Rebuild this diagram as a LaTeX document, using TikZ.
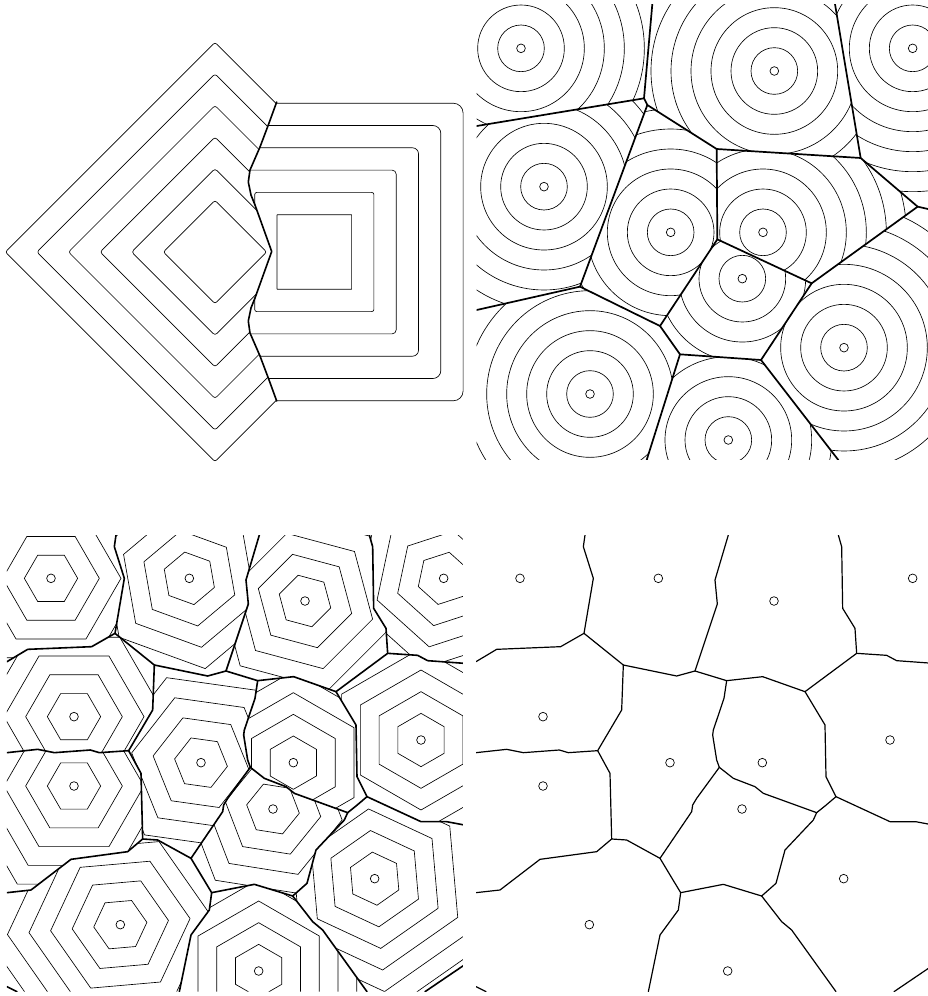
\documentclass[tikz,border=0pt]{standalone}
\newcommand\myrings[2]{\draw[sitec] (#1,#2) circle[radius=13];%
  \foreach \k in {0,...,12}{\draw[thinl] (#1,#2) circle[radius={70+60*\k}];}}
\newcommand\myhex[3]{\draw[sitec] (#1,#2) circle[radius=13];%
  \begin{scope}[shift={(#1,#2)}]%
  \foreach \k in {0,...,11}{\pgfmathsetmacro\hr{80+65*\k}%
    \draw[thinl,line join=miter] (#3:\hr) -- ({#3+60}:\hr) -- ({#3+120}:\hr) -- ({#3+180}:\hr) -- ({#3+240}:\hr) -- ({#3+300}:\hr) -- cycle;}%
  \end{scope}}
\newcommand\bottomedges{%
  \draw[bnd] (345,15) -- (340,50) -- (370,145) -- (342,310) -- (272,350) -- (80,358) -- (18,395);
  \draw[bnd] (342,310) -- (460,405) -- (620,438) -- (675,423) -- (770,452) -- (878,440) -- (1005,485) -- (1160,370) -- (1250,376) -- (1280,392) -- (1390,400);
  \draw[bnd] (675,423) -- (742,222) -- (735,150) -- (775,15);
  \draw[bnd] (1160,370) -- (1155,295) -- (1118,235) -- (1115,50) -- (1105,15);
  \draw[bnd] (1005,485) -- (1065,585) -- (1068,740) -- (1098,800) -- (1260,875) -- (1337,875) -- (1390,885);
  \draw[bnd] (1098,800) -- (1065,828) -- (1040,848) -- (880,790) -- (855,770) -- (790,745) -- (748,712) -- (740,690) -- (728,615) -- (730,600) -- (762,505) -- (770,452);
  \draw[bnd] (748,712) -- (680,805) -- (668,825) -- (665,845) -- (570,985) -- (470,930) -- (425,927) -- (420,730) -- (383,662) -- (455,540) -- (460,405);
  \draw[bnd] (383,662) -- (295,668) -- (268,660) -- (160,668) -- (110,658) -- (18,668);
  \draw[bnd] (425,927) -- (380,965) -- (210,988) -- (90,1080) -- (18,1088);
  \draw[bnd] (1040,848) -- (1030,870) -- (945,960) -- (918,1060) -- (875,1098) -- (760,1063) -- (632,1088) -- (570,985);
  \draw[bnd] (632,1088) -- (625,1140) -- (570,1215) -- (535,1385);
  \draw[bnd] (875,1098) -- (935,1175) -- (965,1200) -- (1098,1385);
  \draw[bnd] (18,1370) -- (48,1385);
  \draw[bnd] (1272,1385) -- (1390,1305);}
\begin{document}
\begin{tikzpicture}[x=1pt,y=-1pt,
  thinl/.style={line width=0.65pt},
  bnd/.style={line width=1.6pt,line join=round,line cap=round},
  sitec/.style={line width=0.7pt}]
\useasboundingbox (0,0) rectangle (928,996);

%%%%%%%% top-left: L1 and Linf contours
\begin{scope}
\clip (-10,-10) -- (276.7,-10) -- (276.7,102) -- (268.3,125) -- (260,147) -- (250,170) -- (248.3,182) -- (251,195) -- (255,205) -- (271.7,251.5) -- (255,298) -- (251,308) -- (248.3,321) -- (250,333) -- (260,356) -- (268.3,378) -- (276.7,401) -- (276.7,510) -- (-10,510) -- cycle;
\foreach \k in {1,...,6}{%
  \pgfmathsetmacro\dr{20.1+31.6*\k}%
  \draw[thinl,rounded corners=2.5pt] ({215-\dr},252) -- (215,{252-\dr}) -- ({215+\dr},252) -- (215,{252+\dr}) -- cycle;}
\end{scope}
\begin{scope}
\clip (600,-10) -- (276.7,-10) -- (276.7,102) -- (268.3,125) -- (260,147) -- (250,170) -- (248.3,182) -- (251,195) -- (255,205) -- (271.7,251.5) -- (255,298) -- (251,308) -- (248.3,321) -- (250,333) -- (260,356) -- (268.3,378) -- (276.7,401) -- (276.7,510) -- (600,510) -- cycle;
\foreach \k in {1,...,6}{%
  \pgfmathsetmacro\sq{15+22.3*\k}%
  \pgfmathsetmacro\rc{0.3+1.9*(\k-1)}%
  \draw[thinl,rounded corners=\rc pt] ({314.3-\sq},{252-\sq}) rectangle ({314.3+\sq},{252+\sq});}
\end{scope}
\draw[bnd] (276.7,102) -- (268.3,125) -- (260,147) -- (250,170) -- (248.3,182) -- (251,195) -- (255,205) -- (271.7,251.5) -- (255,298) -- (251,308) -- (248.3,321) -- (250,333) -- (260,356) -- (268.3,378) -- (276.7,401);

%%%%%%%% top-right: Euclidean Voronoi with circles
\begin{scope}[shift={(470,0)},x=0.333333pt,y=-0.333333pt]
\coordinate (V1) at (522,295); \coordinate (V2) at (532,315);
\coordinate (V3) at (330,860); \coordinate (V4) at (740,447);
\coordinate (V5) at (1172,474); \coordinate (V6) at (742,718);
\coordinate (V7) at (570,978); \coordinate (V8) at (1343,620);
\coordinate (V9) at (1025,850); \coordinate (V10) at (630,1063);
\coordinate (V11) at (873,1080);
\coordinate (Pa) at (547,12); \coordinate (Pb) at (1095,12);
\coordinate (Pc) at (20,378); \coordinate (Pd) at (20,930);
\coordinate (Pe) at (1374,627); \coordinate (Pf) at (530,1380);
\coordinate (Pg) at (1105,1380);
\clip (20,12) rectangle (1374,1380);
\begin{scope}\clip (20,12) -- (Pa) -- (V1) -- (Pc) -- cycle; \myrings{153}{145}\end{scope}
\begin{scope}\clip (Pa) -- (Pb) -- (V5) -- (V4) -- (V2) -- (V1) -- cycle; \myrings{913}{213}\end{scope}
\begin{scope}\clip (Pb) -- (1374,12) -- (Pe) -- (V8) -- (V5) -- cycle; \myrings{1328}{145}\end{scope}
\begin{scope}\clip (Pc) -- (V1) -- (V2) -- (V3) -- (Pd) -- cycle; \myrings{222}{560}\end{scope}
\begin{scope}\clip (V2) -- (V4) -- (V6) -- (V7) -- (V3) -- cycle; \myrings{602}{697}\end{scope}
\begin{scope}\clip (V4) -- (V5) -- (V8) -- (V9) -- (V6) -- cycle; \myrings{879}{697}\end{scope}
\begin{scope}\clip (V6) -- (V9) -- (V11) -- (V10) -- (V7) -- cycle; \myrings{817}{836}\end{scope}
\begin{scope}\clip (V8) -- (Pe) -- (1374,1380) -- (Pg) -- (V11) -- (V9) -- cycle; \myrings{1122}{1043}\end{scope}
\begin{scope}\clip (Pd) -- (V3) -- (V7) -- (V10) -- (Pf) -- (20,1380) -- cycle; \myrings{360}{1182}\end{scope}
\begin{scope}\clip (V10) -- (V11) -- (Pg) -- (Pf) -- cycle; \myrings{775}{1320}\end{scope}
\draw[bnd,line width=1.7pt] (Pa) -- (V1) -- (Pc);
\draw[bnd,line width=1.7pt] (V1) -- (V2) -- (V4) -- (V5) -- (Pb);
\draw[bnd,line width=1.7pt] (V2) -- (V3) -- (Pd);
\draw[bnd,line width=1.7pt] (V4) -- (V6) -- (V7) -- (V3);
\draw[bnd,line width=1.7pt] (V5) -- (V8) -- (Pe);
\draw[bnd,line width=1.7pt] (V8) -- (V9) -- (V6);
\draw[bnd,line width=1.7pt] (V9) -- (V11) -- (Pg);
\draw[bnd,line width=1.7pt] (V7) -- (V10) -- (V11);
\draw[bnd,line width=1.7pt] (V10) -- (Pf);
\end{scope}

%%%%%%%% bottom-left: hexagonal contours
\begin{scope}[shift={(1,530)},x=0.333333pt,y=-0.333333pt]
\clip (18,15) rectangle (1386,1385);
\begin{scope}\clip (18,15) -- (345,15) -- (340,50) -- (370,145) -- (342,310) -- (272,350) -- (80,358) -- (18,395) -- cycle; \myhex{150}{145}{0}\end{scope}
\begin{scope}\clip (345,15) -- (775,15) -- (735,150) -- (742,222) -- (675,423) -- (620,438) -- (460,405) -- (342,310) -- (370,145) -- (340,50) -- cycle; \myhex{565}{145}{20}\end{scope}
\begin{scope}\clip (775,15) -- (1105,15) -- (1115,50) -- (1118,235) -- (1155,295) -- (1160,370) -- (1005,485) -- (878,440) -- (770,452) -- (675,423) -- (742,222) -- (735,150) -- cycle; \myhex{912}{213}{15}\end{scope}
\begin{scope}\clip (1105,15) -- (1390,15) -- (1390,400) -- (1280,392) -- (1250,376) -- (1160,370) -- (1155,295) -- (1118,235) -- (1115,50) -- cycle; \myhex{1328}{145}{-18}\end{scope}
\begin{scope}\clip (18,395) -- (80,358) -- (272,350) -- (342,310) -- (460,405) -- (455,540) -- (383,662) -- (295,668) -- (268,660) -- (160,668) -- (110,658) -- (18,668) -- cycle; \myhex{219}{560}{0}\end{scope}
\begin{scope}\clip (1160,370) -- (1250,376) -- (1280,392) -- (1390,400) -- (1390,885) -- (1337,875) -- (1260,875) -- (1098,800) -- (1068,740) -- (1065,585) -- (1005,485) -- cycle; \myhex{1260}{630}{30}\end{scope}
\begin{scope}\clip (460,405) -- (620,438) -- (675,423) -- (770,452) -- (762,505) -- (730,600) -- (728,615) -- (740,690) -- (748,712) -- (680,805) -- (668,825) -- (665,845) -- (570,985) -- (470,930) -- (425,927) -- (420,730) -- (383,662) -- (455,540) -- cycle; \myhex{600}{698}{8}\end{scope}
\begin{scope}\clip (770,452) -- (878,440) -- (1005,485) -- (1065,585) -- (1068,740) -- (1098,800) -- (1065,828) -- (1040,848) -- (880,790) -- (855,770) -- (790,745) -- (748,712) -- (740,690) -- (728,615) -- (730,600) -- (762,505) -- cycle; \myhex{877}{698}{30}\end{scope}
\begin{scope}\clip (18,668) -- (110,658) -- (160,668) -- (268,660) -- (295,668) -- (383,662) -- (420,730) -- (425,927) -- (380,965) -- (210,988) -- (90,1080) -- (18,1088) -- cycle; \myhex{219}{768}{0}\end{scope}
\begin{scope}\clip (748,712) -- (790,745) -- (855,770) -- (880,790) -- (1040,848) -- (1030,870) -- (945,960) -- (918,1060) -- (875,1098) -- (760,1063) -- (632,1088) -- (570,985) -- (665,845) -- (668,825) -- (680,805) -- cycle; \myhex{816}{837}{9}\end{scope}
\begin{scope}\clip (1040,848) -- (1065,828) -- (1098,800) -- (1260,875) -- (1337,875) -- (1390,885) -- (1390,1305) -- (1272,1385) -- (1098,1385) -- (965,1200) -- (935,1175) -- (875,1098) -- (918,1060) -- (945,960) -- (1030,870) -- cycle; \myhex{1121}{1046}{25}\end{scope}
\begin{scope}\clip (18,1088) -- (90,1080) -- (210,988) -- (380,965) -- (425,927) -- (470,930) -- (570,985) -- (632,1088) -- (625,1140) -- (570,1215) -- (535,1385) -- (48,1385) -- (18,1370) -- cycle; \myhex{358}{1184}{-5}\end{scope}
\begin{scope}\clip (632,1088) -- (760,1063) -- (875,1098) -- (935,1175) -- (965,1200) -- (1098,1385) -- (535,1385) -- (570,1215) -- (625,1140) -- cycle; \myhex{773}{1323}{30}\end{scope}
\bottomedges
\end{scope}

%%%%%%%% bottom-right: cells only
\begin{scope}[shift={(470,530)},x=0.333333pt,y=-0.333333pt,bnd/.append style={line width=1.2pt}]
\clip (18,15) rectangle (1374,1385);
\foreach \p in {(150,145),(565,145),(912,213),(1328,145),(219,560),(1260,630),(600,698),(877,698),(219,768),(816,837),(1121,1046),(358,1184),(773,1323)}{\draw[sitec] \p circle[radius=13];}
\bottomedges
\end{scope}
\end{tikzpicture}
\end{document}
